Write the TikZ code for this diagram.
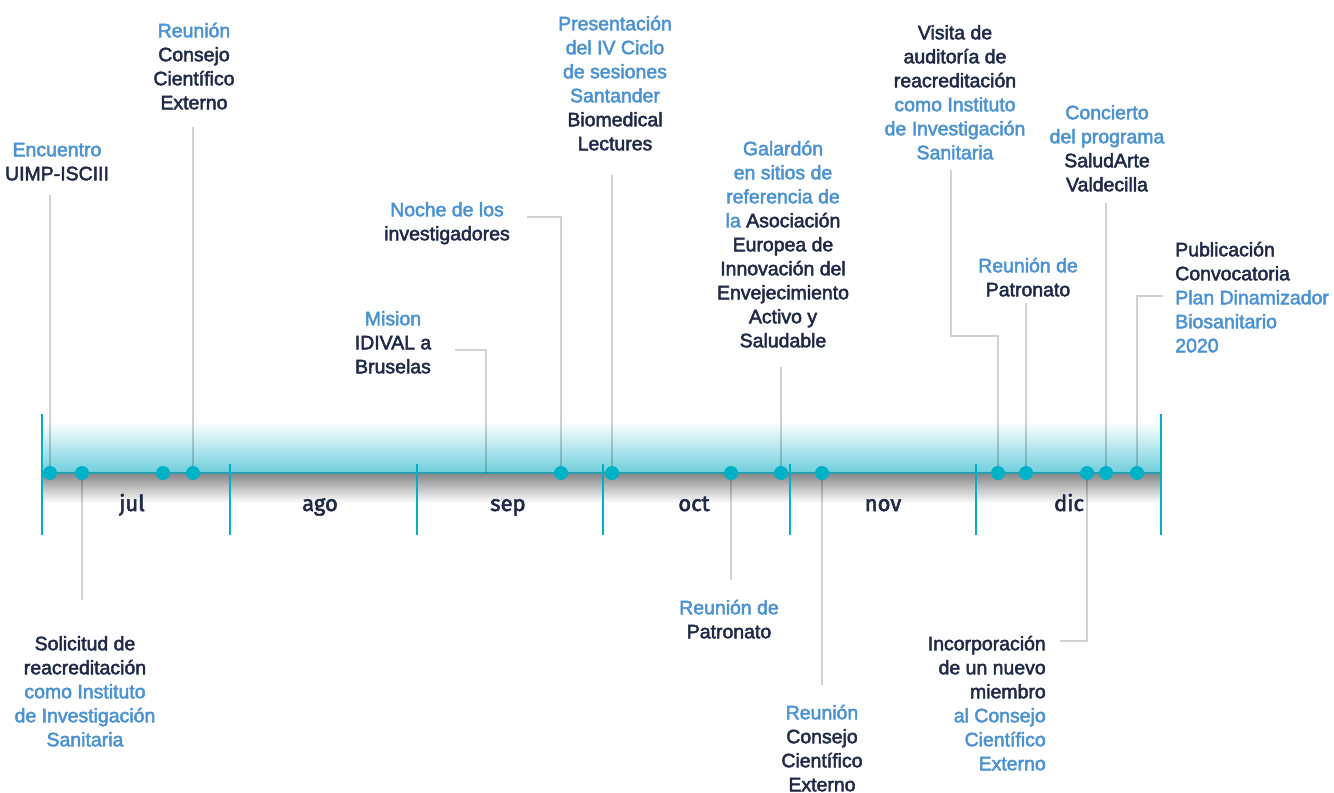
\documentclass[tikz,border=0pt]{standalone}
\usepackage{fontspec}
\setmainfont{Liberation Sans}[FakeBold=2.5]
\newfontfamily\monfont{Fira Sans}[FakeBold=2.5]
\definecolor{navy}{RGB}{31,42,72}
\definecolor{lblue}{RGB}{75,146,211}
\definecolor{dotc}{RGB}{0,178,198}
\definecolor{barc}{RGB}{108,206,220}
\definecolor{linec}{RGB}{38,160,176}
\definecolor{tickc}{RGB}{0,176,198}
\newcommand{\bl}[1]{\textcolor{lblue}{#1}}
\begin{document}
\begin{tikzpicture}[x=0.75pt,y=-0.75pt,
  txt/.style={font=\fontsize{14.6}{18}\selectfont, text=navy, inner sep=0pt, align=center, anchor=north, yshift=7.35pt},
  mon/.style={font=\monfont\fontsize{16.5}{18}\selectfont, text=navy, inner sep=0pt, anchor=base},
  conn/.style={draw=black, opacity=0.18, line width=2.2pt},
  dot/.style={circle, fill=dotc, minimum size=10.5pt, inner sep=0pt},
  tickline/.style={draw=tickc, line width=1.6pt}]
\useasboundingbox (0,0) rectangle (1334,792);
% bar
\shade[top color=white, bottom color=barc] (42,422) rectangle (1161,473);
\shade[top color=black!48, middle color=black!16, bottom color=white] (42,473) rectangle (1161,503);
\draw[draw=linec, line width=1.1pt] (42,473) -- (1161,473);
% month ticks
\draw[tickline] (42,414) -- (42,535);
\draw[tickline] (230,464) -- (230,535);
\draw[tickline] (417,464) -- (417,535);
\draw[tickline] (603,464) -- (603,535);
\draw[tickline] (790,464) -- (790,535);
\draw[tickline] (976,464) -- (976,535);
\draw[tickline] (1161,414) -- (1161,535);
% month labels
\node[mon] (mjul) at (132,511) {jul};
\node[mon] (mago) at (320,511) {ago};
\node[mon] (msep) at (508,511) {sep};
\node[mon] (moct) at (694,511) {oct};
\node[mon] (mnov) at (883,511) {nov};
\node[mon] (mdic) at (1069,511) {dic};
% text nodes
\node[txt] (t1) at (57,149) {\strut\bl{Encuentro}\\UIMP-ISCIII};
\node[txt] (t2) at (85,643) {\strut Solicitud de\\reacreditación\\\bl{como Instituto}\\\bl{de Investigación}\\\bl{Sanitaria}};
\node[txt] (t4) at (194,30) {\strut\bl{Reunión}\\Consejo\\Científico\\Externo};
\node[txt] (t5) at (393,318) {\strut\bl{Mision}\\IDIVAL a\\Bruselas};
\node[txt] (t6) at (447,209) {\strut\bl{Noche de los}\\investigadores};
\node[txt] (t7) at (615,23) {\strut\bl{Presentación}\\\bl{del IV Ciclo}\\\bl{de sesiones}\\\bl{Santander}\\Biomedical\\Lectures};
\node[txt] (t8) at (729,607) {\strut\bl{Reunión de}\\Patronato};
\node[txt] (t9) at (783,148) {\strut\bl{Galardón}\\\bl{en sitios de}\\\bl{referencia de}\\\bl{la} Asociación\\Europea de\\Innovación del\\Envejecimiento\\Activo y\\Saludable};
\node[txt] (t10) at (822,712) {\strut\bl{Reunión}\\Consejo\\Científico\\Externo};
\node[txt] (t11) at (955,32) {\strut Visita de\\auditoría de\\reacreditación\\\bl{como Instituto}\\\bl{de Investigación}\\\bl{Sanitaria}};
\node[txt] (t12) at (1028,265) {\strut\bl{Reunión de}\\Patronato};
\node[txt, anchor=north east, align=right] (t13) at (1046,643) {\strut Incorporación\\de un nuevo\\miembro\\\bl{al Consejo}\\\bl{Científico}\\\bl{Externo}};
\node[txt] (t14) at (1107,112) {\strut\bl{Concierto}\\\bl{del programa}\\SaludArte\\Valdecilla};
\node[txt, anchor=north west, align=left] (t15) at (1175,249) {\strut Publicación\\Convocatoria\\\bl{Plan Dinamizador}\\\bl{Biosanitario}\\\bl{2020}};
% event points
\coordinate (e1) at (50,473);
\coordinate (e2) at (82,473);
\coordinate (e3) at (163,473);
\coordinate (e4) at (193,473);
\coordinate (e5) at (486,473);
\coordinate (e6) at (561,473);
\coordinate (e7) at (612,473);
\coordinate (e8) at (731,473);
\coordinate (e9) at (781,473);
\coordinate (e10) at (822,473);
\coordinate (e11) at (998,473);
\coordinate (e12) at (1026,473);
\coordinate (e13) at (1087,473);
\coordinate (e14) at (1106,473);
\coordinate (e15) at (1137,473);
% connector free ends
\coordinate (a1) at (50,195);
\coordinate (a2) at (82,600);
\coordinate (a4) at (193,127);
\coordinate (a5) at (455,350);
\coordinate (a6) at (527,217);
\coordinate (a7) at (612,175);
\coordinate (a8) at (731,580);
\coordinate (a9) at (781,367);
\coordinate (a10) at (822,685);
\coordinate (a11) at (951,170);
\coordinate (b11) at (951,336);
\coordinate (a12) at (1026,303);
\coordinate (a13) at (1060,641);
\coordinate (a14) at (1106,203);
\coordinate (a15) at (1163,296);
% connectors
\draw[conn] (a1) -- (e1);
\draw[conn] (e2) -- (a2);
\draw[conn] (a4) -- (e4);
\draw[conn] (a5) -| (e5);
\draw[conn] (a6) -| (e6);
\draw[conn] (a7) -- (e7);
\draw[conn] (e8) -- (a8);
\draw[conn] (a9) -- (e9);
\draw[conn] (e10) -- (a10);
\draw[conn] (a11) -- (b11) -| (e11);
\draw[conn] (a12) -- (e12);
\draw[conn] (e13) |- (a13);
\draw[conn] (a14) -- (e14);
\draw[conn] (a15) -| (e15);
% dots
\foreach \i in {1,2,3,4,6,7,8,9,10,11,12,13,14,15} {\node[dot] (d\i) at (e\i) {};}
\end{tikzpicture}
\end{document}
